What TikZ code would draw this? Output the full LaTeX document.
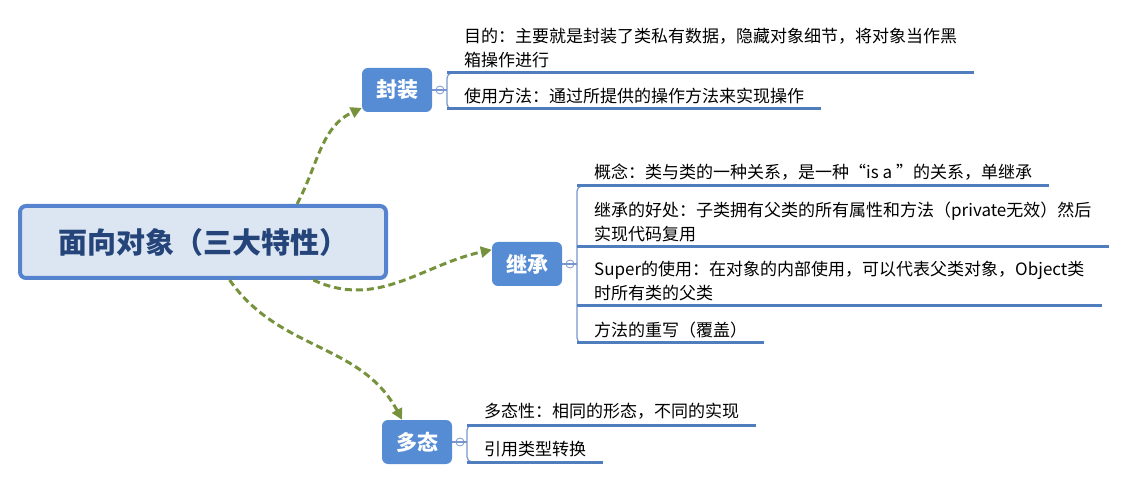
\documentclass[tikz,border=0pt]{standalone}
\usepackage{fontspec}
\usepackage{tikz}
\usetikzlibrary{arrows.meta,positioning}
\setmainfont{Noto Sans CJK SC}
\definecolor{rootfill}{RGB}{220,230,242}
\definecolor{rootline}{RGB}{85,131,205}
\definecolor{roottext}{RGB}{36,68,122}
\definecolor{topicfill}{RGB}{86,140,212}
\definecolor{linkgreen}{RGB}{118,146,60}
\definecolor{ulineblue}{RGB}{80,125,190}
\definecolor{braceblue}{RGB}{120,150,205}
\tikzset{
  root/.style={draw=rootline, line width=4pt, fill=rootfill, rounded corners=6pt,
    minimum width=366pt, minimum height=72pt, text=roottext,
    font=\bfseries\fontsize{29}{32}\selectfont},
  topic/.style={fill=topicfill, rounded corners=6pt, minimum width=70pt,
    minimum height=44pt, text=white, font=\bfseries\fontsize{21}{24}\selectfont},
  item/.style={anchor=south west, inner xsep=17pt, inner ysep=5pt, align=left,
    font=\fontsize{17}{24}\selectfont},
  uline/.style={draw=ulineblue, line width=3pt},
  brace/.style={draw=braceblue, line width=1.2pt, rounded corners=5pt},
  fold/.style={circle, draw=braceblue, line width=0.8pt, inner sep=0pt, minimum size=8pt},
  link/.style={draw=linkgreen, line width=3pt, dash pattern=on 7pt off 4pt,
    -{Triangle[length=11pt,width=11pt]}}
}
\begin{document}
\begin{tikzpicture}[x=1pt, y=1pt]
\useasboundingbox (0,0) rectangle (1124,482);
% main topic and the three branches
\node[root] (root) at (203,240) {面向对象（三大特性）};
\node[topic] (fz) at (397,392) {封装};
\node[topic] (jc) at (527,218) {继承};
\node[topic] (dt) at (417,40) {多态};

% dashed links
\draw[link] (root.22) to[out=62, in=205] (fz.207);
\draw[link] (root.-19) to[out=-25, in=192] (jc.158);
\draw[link] (root.-55) to[out=-55, in=118] (dt.124);

% items of 封装
\node[item] (fz1) at (447,409) {目的：主要就是封装了类私有数据，隐藏对象细节，将对象当作黑\\箱操作进行};
\node[item] (fz2) at (447,373) {使用方法：通过所提供的操作方法来实现操作};
\node[fold] (fzf) at (440,392) {};
\draw[brace] (fz.east) -- (fzf -| fz1.south west);
\draw[brace] ([xshift=10pt]fz1.south west) -- (fz1.south west) -- (fz2.south west) -- ([xshift=10pt]fz2.south west);
\foreach \n in {fz1,fz2} \draw[uline] (\n.south west) -- (\n.south east);

% items of 继承
\node[item] (jc1) at (577,296) {概念：类与类的一种关系，是一种“is a ”的关系，单继承};
\node[item] (jc2) at (577,235) {继承的好处：子类拥有父类的所有属性和方法（private无效）然后\\实现代码复用};
\node[item] (jc3) at (577,176) {Super的使用：在对象的内部使用，可以代表父类对象，Object类\\时所有类的父类};
\node[item] (jc4) at (577,139) {方法的重写（覆盖）};
\node[fold] (jcf) at (570,218) {};
\draw[brace] (jc.east) -- (jcf -| jc1.south west);
\draw[brace] ([xshift=10pt]jc1.south west) -- (jc1.south west) -- (jc4.south west) -- ([xshift=10pt]jc4.south west);
\foreach \n in {jc1,jc2,jc3,jc4} \draw[uline] (\n.south west) -- (\n.south east);

% items of 多态
\node[item] (dt1) at (467,57) {多态性：相同的形态，不同的实现};
\node[item] (dt2) at (467,20) {引用类型转换};
\node[fold] (dtf) at (460,40) {};
\draw[brace] (dt.east) -- (dtf -| dt1.south west);
\draw[brace] ([xshift=10pt]dt1.south west) -- (dt1.south west) -- (dt2.south west) -- ([xshift=10pt]dt2.south west);
\foreach \n in {dt1,dt2} \draw[uline] (\n.south west) -- (\n.south east);
\end{tikzpicture}
\end{document}
